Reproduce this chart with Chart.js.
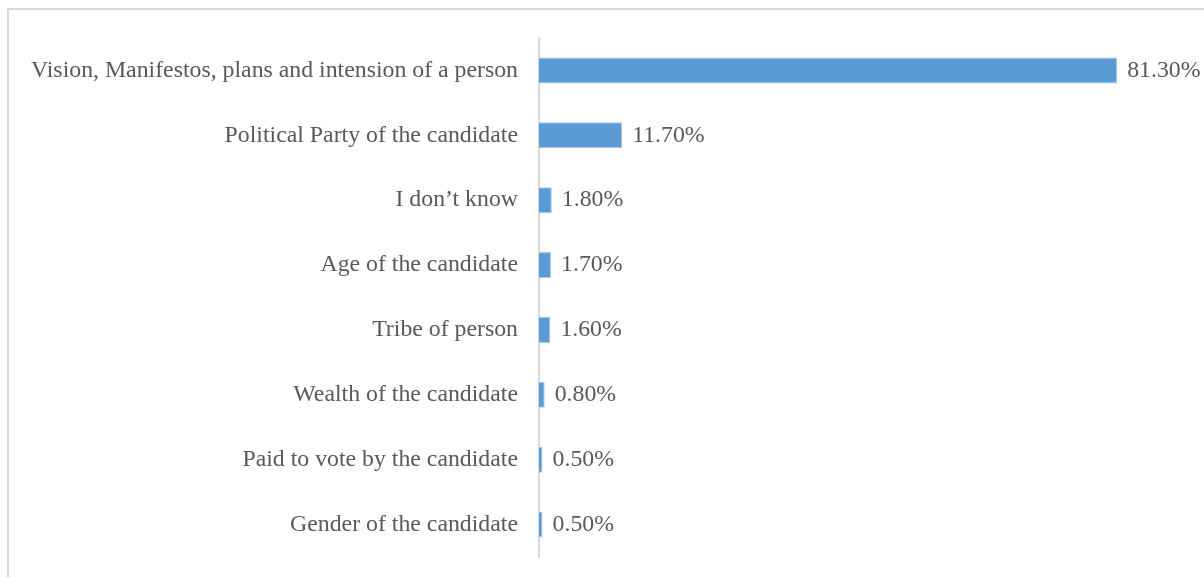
<!DOCTYPE html>
<html>
<head>
<meta charset="utf-8">
<script src="https://cdn.jsdelivr.net/npm/chart.js@4"></script>
<style>
	html, body { margin: 0; padding: 0; background: #ffffff; }
	#wrap { position: relative; width: 1204px; height: 577px; }
</style>
</head>
<body>
<div id="wrap"><canvas id="graphique-facteurs" width="1204" height="577"></canvas></div>
<script>
const categories = [
	"Vision, Manifestos, plans and intension of a person",
	"Political Party of the candidate",
	"I don\u2019t know",
	"Age of the candidate",
	"Tribe of person",
	"Wealth of the candidate",
	"Paid to vote by the candidate",
	"Gender of the candidate",
];
const pourcentages = [81.3, 11.7, 1.8, 1.7, 1.6, 0.8, 0.5, 0.5];

const police = "'Liberation Serif', 'Times New Roman', serif";
const gris = "#595959";

// cadre gris en haut et à gauche
const cadre = {
	id: "cadre",
	beforeDraw(chart) {
		const ctx = chart.ctx;
		ctx.save();
		ctx.strokeStyle = "#d9d9d9";
		ctx.lineWidth = 2;
		ctx.beginPath();
		ctx.moveTo(8, chart.height);
		ctx.lineTo(8, 9);
		ctx.lineTo(chart.width, 9);
		ctx.stroke();
		ctx.restore();
	},
};

// étiquettes de valeur au bout des barres
const etiquettes = {
	id: "etiquettes",
	afterDatasetsDraw(chart) {
		const ctx = chart.ctx;
		const meta = chart.getDatasetMeta(0);
		ctx.save();
		ctx.font = "23.8px " + police;
		ctx.fillStyle = gris;
		ctx.textAlign = "left";
		ctx.textBaseline = "middle";
		for (let i = 0; i < meta.data.length; i++) {
			const barre = meta.data[i];
			ctx.fillText(pourcentages[i].toFixed(2) + "%", barre.x + 10, barre.y);
		}
		ctx.restore();
	},
};

const data = {
	labels: categories,
	datasets: [{
		data: pourcentages,
		backgroundColor: "#5b9bd5",
		borderColor: "#a9c9ea",
		borderWidth: 1,
		categoryPercentage: 0.8,
		barPercentage: 0.5,
	}],
};

const config = {
	type: "bar",
	data: data,
	plugins: [cadre, etiquettes],
	options: {
		indexAxis: "y",
		responsive: false,
		animation: false,
		layout: { padding: { left: 0, top: 38, right: 25, bottom: 20 } },
		plugins: {
			legend: { display: false },
			tooltip: { enabled: false },
		},
		scales: {
			x: {
				display: false,
				min: 0,
				max: 90,
			},
			y: {
				grid: { display: false },
				border: { display: true, color: "#d9d9d9", width: 2 },
				ticks: {
					color: gris,
					font: { family: police, size: 23.8 },
					padding: 13,
				},
				afterFit(scale) {
					scale.width = 539;
					scale.paddingTop = 0;
					scale.paddingBottom = 0;
				},
			},
		},
	},
};

new Chart(document.querySelector("#graphique-facteurs"), config);
</script>
</body>
</html>
